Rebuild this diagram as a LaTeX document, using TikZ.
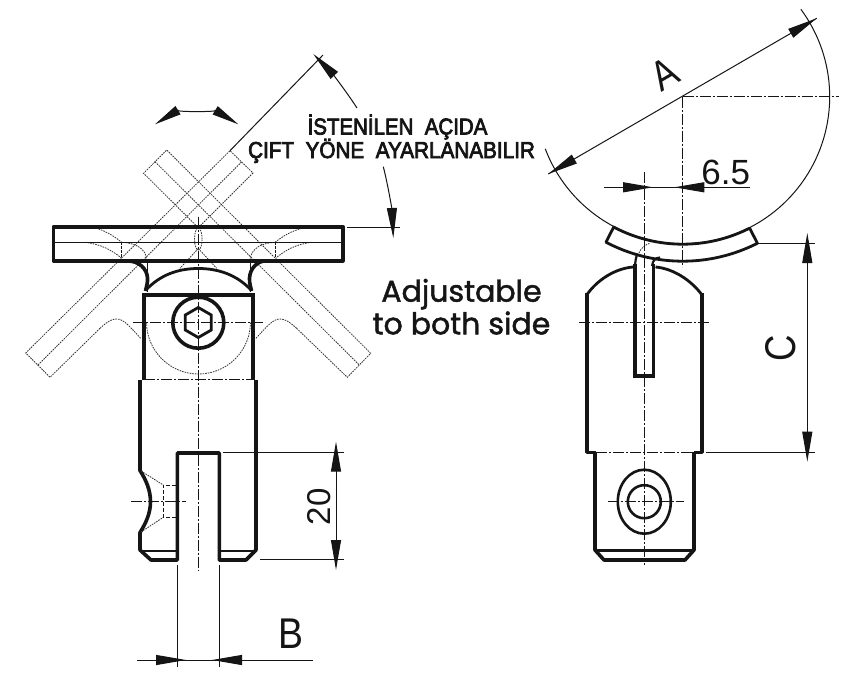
\documentclass[tikz,border=0pt]{standalone}
\usepackage{fontspec}
\setmainfont{Liberation Sans}
\newfontfamily\popfont[FakeBold=1.6]{Poppins}
\newfontfamily\stenfont[FakeBold=3.5]{Liberation Sans}
\usetikzlibrary{arrows.meta}
\definecolor{ink}{HTML}{151515}
\definecolor{dot}{HTML}{333333}
\tikzset{
  heavy/.style={draw=ink,line width=3.6pt,line join=miter,line cap=butt},
  medium/.style={draw=ink,line width=2.8pt,line join=miter},
  fine/.style={draw=ink,line width=1pt},
  centerline/.style={draw=ink,line width=.9pt,dash pattern=on 11pt off 2pt on 2pt off 2pt},
  hidden/.style={draw=ink,line width=1pt,dash pattern=on 4pt off 2pt},
  ghost/.style={draw=dot,line width=.8pt,dash pattern=on 1.6pt off 1pt},
  tipped/.style={draw=ink,line width=1pt,-{Triangle[length=30pt,width=10pt,fill=ink]}},
  stencil/.style={inner sep=0pt,anchor=base,text=ink,font=\fontsize{23}{25}\stenfont},
  dimtext/.style={inner sep=0pt,text=ink},
  pop/.style={inner sep=0pt,anchor=base,text=ink,font=\fontsize{30}{33}\popfont}
}
\begin{document}
\begin{tikzpicture}[x=1pt,y=-1pt]
\useasboundingbox (0,0) rectangle (862,680);
\fill[white] (0,0) rectangle (862,680);

% ---- LEFT VIEW : ghost swung positions
\draw[ghost] (100,328.3) -- (50,377.3) -- (25.7,353) -- (230,150.7) -- (253,173) -- (198.3,227.7);
\draw[ghost] (38,365) -- (241.5,162);
\draw[ghost] (296.6,328.3) -- (347.3,377.3) -- (370.7,353.3) -- (166.7,150) -- (143.6,173.3) -- (198.3,227.7);
\draw[ghost] (155,161.7) -- (359.3,365);
\draw[ghost] (100,328.3) .. controls (108,321) and (112,319) .. (116.7,319) .. controls (124,319) and (130,327) .. (140.7,338.3);
\draw[ghost] (296.6,328.3) .. controls (288.6,321) and (284.6,319) .. (279.9,319) .. controls (272.6,319) and (266.6,327) .. (255.9,338.3);
% ghost details in the plate
\draw[ghost] (96,228) .. controls (108,232) and (115,237) .. (121.7,242.3) .. controls (135,243) and (146,248) .. (146.7,260);
\draw[ghost] (85,242.3) .. controls (100,244) and (112,250) .. (121.7,258.3);
\draw[ghost] (301.7,228.3) .. controls (289,232) and (282,237) .. (275,242.3) .. controls (262,243) and (251,248) .. (250,260);
\draw[ghost] (311.7,242.3) .. controls (297,244) and (285,250) .. (275.7,258.3);
\draw[ghost] (198.3,239) ellipse[x radius=3.8pt,y radius=11pt];
\draw[ghost] (198.3,248.5) -- (180,268.3);
\draw[ghost] (198.3,248.5) -- (216.7,268.3);
\draw[ghost] (146.5,322) arc[start angle=180,end angle=360,radius=52pt] ;
\draw[fine,line width=.9pt,dash pattern=on 3pt off 1pt] (121.7,242.3) -- (121.7,258.3);
\draw[fine,line width=.9pt,dash pattern=on 3pt off 1pt] (275.7,242.3) -- (275.7,258.3);
\draw[fine,line width=.8pt] (146.9,260) -- (146.9,292);
\draw[fine,line width=.8pt] (250.2,260) -- (250.2,292);

% plate
\draw[heavy,line join=round] (53.5,226.7) rectangle (343,260.7);
\draw[fine] (53.5,242.2) -- (343,242.2);
% fillets and hinge head
\draw[heavy] (128,261) .. controls (138,261) and (147,268) .. (147.5,278) .. controls (147.8,283) and (146.5,286) .. (145.5,291);
\draw[heavy] (265,261) .. controls (258,261) and (250,268) .. (249.5,278) .. controls (249.3,283) and (250.5,286) .. (251.5,291);
\draw[medium] (146,290) .. controls (160,275) and (178,268.5) .. (198.3,268.5) .. controls (218.6,268.5) and (237,275) .. (251,290);
\draw[heavy] (142,295) -- (254,295);
\draw[heavy] (143.8,293) -- (143.8,380);
\draw[heavy] (253,293) -- (253,380);
% screw
\draw[heavy] (198.3,322.7) circle[radius=25.5pt];
\draw[draw=ink,line width=2.8pt,line join=miter] (198.3,307.5) -- (211.3,315) -- (211.3,330) -- (198.3,337.5) -- (185.3,330) -- (185.3,315) -- cycle;
% lower body
\draw[heavy,line join=round] (140,380) -- (140,470.5) .. controls (146,480) and (150.5,490) .. (150.5,501.7) .. controls (150.5,513) and (146,523) .. (140,532.5) -- (140,550) -- (151,560) -- (177.3,560) -- (177.3,453) -- (219.3,453) -- (219.3,560) -- (246,560) -- (256,550) -- (256,380);
\draw[draw=ink,line width=2.6pt] (140,551) -- (177,551);
\draw[draw=ink,line width=2.6pt] (219.5,551) -- (256,551);
% notch
\draw[hidden] (176,485) -- (163.3,485) -- (163.3,517.3) -- (176,517.3);
\draw[ghost] (141,471) -- (163.3,485);
\draw[ghost] (141,532) -- (163.3,517.3);
% centre lines
\draw[centerline] (198.3,216.7) -- (198.3,570);
\draw[centerline] (133,322.7) -- (265,322.7);
\draw[centerline] (131,501.7) -- (186,501.7);
\draw[centerline] (144,379) -- (253,379);

% ---- LEFT VIEW : dimensions
\draw[fine] (230,150.7) -- (323,55);
\draw[tipped] (357,108) .. controls (344,88) and (330,71) .. (313.3,54);
\draw[tipped] (383.3,166.7) .. controls (388,185) and (392,210) .. (393.3,238);
\draw[fine] (347.3,227.3) -- (400,227.3);
\draw[draw=ink,line width=1pt,{Triangle[length=27pt,width=9.5pt,fill=ink]}-{Triangle[length=27pt,width=9.5pt,fill=ink]}] (155,124.3) .. controls (175,112) and (218,112) .. (238.3,124.3);
\draw[fine] (222.7,452) -- (344,452);
\draw[fine] (260,559.3) -- (344,559.3);
\draw[fine] (336,452) -- (336,538);
\draw[tipped] (336,475) -- (336,441.7);
\draw[tipped] (336,538) -- (336,570);
\node[dimtext,rotate=90,font=\fontsize{33}{36}\selectfont] (dimtwenty) at (318.7,506.7) {20};
\draw[fine] (177.3,565) -- (177.3,666.7);
\draw[fine] (219.3,565) -- (219.3,666.7);
\draw[fine] (137,660) -- (313,660);
\draw[tipped] (156,660) -- (186,660);
\draw[tipped] (240.7,660) -- (212,660);
\node[dimtext,font=\fontsize{43}{46}\selectfont] (dimb) at (291,633.5) {\scalebox{.87}[1]{B}};

% ---- texts in the middle
\node[stencil] (noteone) at (397.5,134.5) {\scalebox{.89}[1]{İSTENİLEN\ \ AÇIDA}};
\node[stencil] (notetwo) at (391.5,158) {\scalebox{.9}[1]{ÇIFT\ \ YÖNE\ \ AYARLANABILIR}};
\node[pop] (adjone) at (461.5,301.7) {Adjustable};
\node[pop] (adjtwo) at (461.5,334.3) {to both side};

% ---- RIGHT VIEW
\draw[fine] plot[domain=-36.5:159.2,samples=90] ({682.7+147*cos(\x)},{96.7+147*sin(\x)});
\draw[centerline] (682.7,96.7) -- (839,96.7);
\draw[centerline] (682.7,96.7) -- (682.7,266.7);
\draw[fine] (548.3,174) -- (816.7,18.3);
\draw[tipped] (574,159.2) -- (548.3,174);
\draw[tipped] (791,33.2) -- (816.7,18.3);
\node[dimtext,rotate=30,font=\fontsize{42}{44}\selectfont] (dima) at (665,74) {\scalebox{.85}[1]{A}};
\draw[fine] (604,187.3) -- (750,187.3);
\draw[tipped] (622.7,187.3) -- (653,187.3);
\draw[tipped] (703,187.3) -- (674.3,187.3);
\node[dimtext,font=\fontsize{35}{38}\selectfont] (dimsix) at (725.7,172.5) {6.5};
% segment
\draw[medium,line join=round] plot[domain=63:117.9,samples=40] ({682.7+147.5*cos(\x)},{96.7+147.5*sin(\x)}) -- plot[domain=117.8:63,samples=40] ({682.7+164.5*cos(\x)},{96.7+164.5*sin(\x)}) -- cycle;
% stem
\draw[draw=ink,line width=2.2pt] (635,266) .. controls (635.5,260) and (636,257) .. (637.3,253.5);
\draw[draw=ink,line width=2.2pt] (652,266) .. controls (653,260) and (655,258) .. (660,257.5);
\draw[ghost] (639,253) .. controls (641,248) and (645,245) .. (650,243);
% body
\draw[heavy] (634.8,264) -- (634.8,375.7) -- (653.5,375.7) -- (653.5,264);
\draw[medium] (586.7,295) .. controls (597,280) and (615,268.5) .. (633,267);
\draw[medium] (702,295) .. controls (691,280) and (673,268.5) .. (655.5,267);
\draw[heavy,line join=round] (586.7,293) -- (586.7,452.3) -- (596,452.3);
\draw[heavy,line join=round] (702,293) -- (702,452.3) -- (693.5,452.3);
\draw[heavy,line join=round] (595,452) -- (595,550) -- (604,560) -- (685,560) -- (694,550) -- (694,452);
\draw[draw=ink,line width=2.6pt] (595,550.5) -- (694,550.5);
\draw[draw=ink,line width=2.6pt] (644.3,501.7) ellipse[x radius=26.5pt,y radius=32pt];
\draw[draw=ink,line width=2.6pt] (644.3,501.7) circle[radius=16.5pt];
% centre lines
\draw[centerline] (644.3,172) -- (644.3,565);
\draw[centerline] (579,322.3) -- (710.7,322.3);
\draw[centerline] (608,501.7) -- (684,501.7);
\draw[centerline] (596,452.3) -- (694,452.3);
% dim C
\draw[fine] (757,243.3) -- (815,243.3);
\draw[fine] (706,452.3) -- (815,452.3);
\draw[fine] (807.3,265) -- (807.3,431.7);
\draw[tipped] (807.3,265) -- (807.3,233);
\draw[tipped] (807.3,431.7) -- (807.3,461.7);
\node[dimtext,rotate=90,font=\fontsize{43}{46}\selectfont] (dimc) at (780.7,348) {\scalebox{.85}[1]{C}};
\end{tikzpicture}
\end{document}
